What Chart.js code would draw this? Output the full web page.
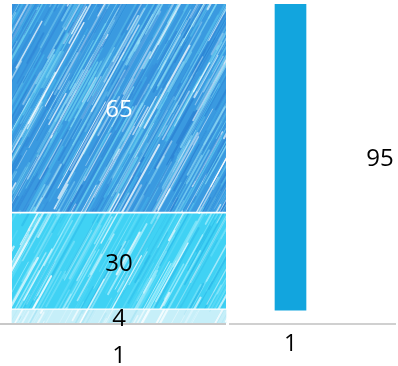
<!DOCTYPE html>
<html>
<head>
<meta charset="utf-8">
<script src="https://cdn.jsdelivr.net/npm/chart.js@4"></script>
<style>
html,body{margin:0;padding:0;background:#fff;width:398px;height:366px;overflow:hidden;}
canvas{position:absolute;top:0;}
#c1{left:0;}
#c2{left:229px;}
</style>
</head>
<body>
<canvas id="c1" width="228" height="366"></canvas>
<canvas id="c2" width="169" height="366"></canvas>
<script>
// ---- data ----
const categories = ['1'];
const lowValues = [4];
const midValues = [30];
const highValues = [65];
const rightCategories = ['1'];
const rightBase = [4];
const rightValues = [95];
const yMax = 99;

// ---- textures (style only, seeded) ----
function rng(seed){return function(){seed|=0;seed=seed+0x6D2B79F5|0;let t=Math.imul(seed^seed>>>15,1|seed);t=t+Math.imul(t^t>>>7,61|t)^t;return((t^t>>>14)>>>0)/4294967296;};}
function streakPattern(ctx, base, colors, seed, count, alphaMin, alphaRange){
  const c=document.createElement('canvas');c.width=240;c.height=366;
  const g=c.getContext('2d');g.fillStyle=base;g.fillRect(0,0,240,366);
  const r=rng(seed);
  const dx=0.55, dy=-1, n=Math.hypot(dx,dy);
  g.lineCap='round';
  for(let i=0;i<count;i++){
    const x=r()*340-60, y=r()*440;
    const len=20+r()*100;
    g.strokeStyle=colors[Math.floor(r()*colors.length)];
    g.globalAlpha=alphaMin+r()*alphaRange;
    g.lineWidth=0.6+r()*1.6;
    g.beginPath();g.moveTo(x,y);g.lineTo(x+dx/n*len,y+dy/n*len);g.stroke();
  }
  g.globalAlpha=1;
  return ctx.createPattern(c,'repeat');
}

function baseLine(color){
  return {id:'baseLine',beforeDatasetsDraw(chart){
    const ctx=chart.ctx, y=chart.scales.y.getPixelForValue(0);
    ctx.save();ctx.strokeStyle=color;ctx.lineWidth=2;
    ctx.beginPath();ctx.moveTo(0,y+1);ctx.lineTo(chart.width-2,y+1);ctx.stroke();ctx.restore();
  }};
}
function valueLabels(opts){
  return {id:'valueLabels',afterDatasetsDraw(chart){
    const ctx=chart.ctx;ctx.save();
    chart.data.datasets.forEach((ds,di)=>{
      const o=opts[di]; if(!o) return;
      chart.getDatasetMeta(di).data.forEach((el,i)=>{
        const v=o.values[i];
        ctx.font=o.font;ctx.fillStyle=o.color;ctx.textAlign='center';ctx.textBaseline='middle';
        ctx.fillText(String(v), el.x+(o.dx||0), (el.y+el.base)/2+(o.dy||0));
      });
    });
    ctx.restore();
  }};
}

const ctx1=document.getElementById('c1').getContext('2d');
const pLow=streakPattern(ctx1,'#c6eff9',['#ffffff','#e6f9ff','#a8e4f4'],11,600,0.3,0.5);
const pMid=streakPattern(ctx1,'#40d2f4',['#ffffff','#8ee9fb','#2ab8e8','#b8f3ff','#5fdcf8'],23,900,0.25,0.55);
const pHigh=streakPattern(ctx1,'#3a9ae0',['#6cd0f0','#2a80d2','#8fdcf6','#ffffff','#48b4ea','#3388d8'],37,1400,0.25,0.55);

const FONT='"Open Sans", sans-serif';

new Chart(ctx1,{
  type:'bar',
  data:{labels:categories,datasets:[
    {data:lowValues,backgroundColor:pLow,barThickness:214,borderWidth:0},
    {data:midValues,backgroundColor:pMid,barThickness:214,borderColor:'#fff',borderWidth:{top:0,left:0,right:0,bottom:2},borderSkipped:false},
    {data:highValues,backgroundColor:pHigh,barThickness:214,borderColor:'#fff',borderWidth:{top:0,left:0,right:0,bottom:2},borderSkipped:false}
  ]},
  options:{
    responsive:false,animation:false,devicePixelRatio:1,
    layout:{padding:{left:10,right:0,top:4,bottom:0}},
    plugins:{legend:{display:false},tooltip:{enabled:false}},
    scales:{
      x:{stacked:true,grid:{display:false,drawTicks:false},border:{display:false},
         ticks:{color:'#000',font:{family:FONT,size:24},padding:19},
         afterFit(s){s.height=43;}},
      y:{stacked:true,min:0,max:yMax,display:false}
    }
  },
  plugins:[baseLine('#c8c8c8'),valueLabels([
    {values:lowValues,font:'24px '+FONT,color:'#000',dy:3},
    {values:midValues,font:'24px '+FONT,color:'#000',dy:2},
    {values:highValues,font:'24px '+FONT,color:'#fff',dy:1}
  ])]
});

const ctx2=document.getElementById('c2').getContext('2d');
new Chart(ctx2,{
  type:'bar',
  data:{labels:rightCategories,datasets:[
    {data:rightValues.map((v,i)=>[rightBase[i],rightBase[i]+v]),backgroundColor:'#12a5de',barThickness:31,borderWidth:0}
  ]},
  options:{
    responsive:false,animation:false,devicePixelRatio:1,
    layout:{padding:{left:0,right:46,top:4,bottom:0}},
    plugins:{legend:{display:false},tooltip:{enabled:false}},
    scales:{
      x:{grid:{display:false,drawTicks:false},border:{display:false},
         ticks:{color:'#000',font:{family:FONT,size:23},padding:8},
         afterFit(s){s.height=43;}},
      y:{min:0,max:yMax,display:false}
    }
  },
  plugins:[baseLine('#d0d0d0'),valueLabels([
    {values:rightValues,font:'24px '+FONT,color:'#000',dx:89.5,dy:2}
  ])]
});
</script>
</body>
</html>
